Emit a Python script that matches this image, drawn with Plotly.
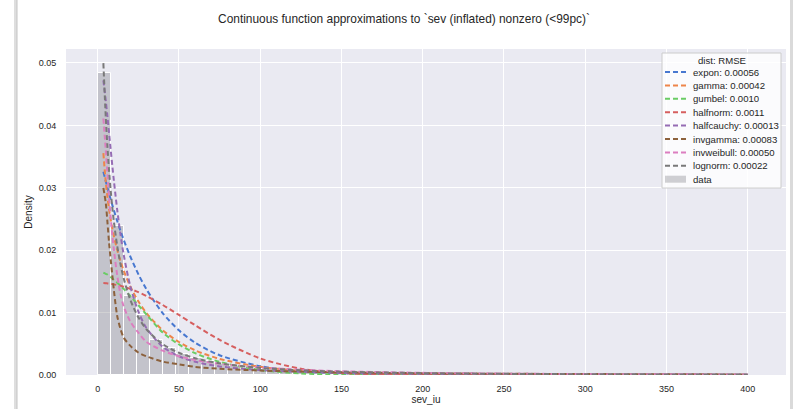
import plotly.graph_objects as go

# ---- data -------------------------------------------------------------
# histogram of sev_iu (density), 8-wide bins from 0 to 400
bin_edges = list(range(0, 401, 8))
hist_density = [0.0484, 0.0238, 0.0126, 0.0096, 0.0056, 0.0043, 0.0033, 0.0027,
                0.0022, 0.0018, 0.0015, 0.0012, 0.0010, 0.0009, 0.0008, 0.0007,
                0.0006, 0.0005, 0.00045, 0.0004, 0.00035, 0.0003, 0.00027, 0.00024,
                0.0002, 0.00018, 0.00016, 0.00014, 0.00012, 0.0001, 0.00009, 0.00008,
                0.00007, 0.00006, 0.00005, 0.00005, 0.00004, 0.00004, 0.00003, 0.00003,
                0.00003, 0.00002, 0.00002, 0.00002, 0.00002, 0.00001, 0.00001, 0.00001,
                0.00001, 0.00001]

# evaluation grid for the fitted pdfs
sev_grid = [3.5, 5, 6, 7, 8, 9, 10, 12, 14, 16, 20, 25, 30, 40, 50, 60, 75,
            100, 125, 150, 200, 250, 300, 400]

pdf_expon = [0.03257, 0.03102, 0.03002, 0.02906, 0.02813, 0.02723, 0.02635, 0.02469,
             0.02313, 0.02168, 0.01903, 0.01617, 0.01374, 0.00992, 0.00716, 0.00517,
             0.00317, 0.00141, 0.000622, 0.000276, 0.0000542, 0.0000106, 0.0000021, 0.0]
pdf_gamma = [0.03555, 0.03082, 0.02850, 0.02657, 0.02492, 0.02349, 0.02223, 0.02007,
             0.01827, 0.01673, 0.01423, 0.01181, 0.00993, 0.00718, 0.00529, 0.00395,
             0.00258, 0.00131, 0.000674, 0.000352, 0.0000981, 0.0000279, 0.0000080, 0.0000007]
pdf_gumbel = [0.0164, 0.0162, 0.0161, 0.0159, 0.0157, 0.0155, 0.0152, 0.0148,
              0.0143, 0.0138, 0.0127, 0.0112, 0.0097, 0.0068, 0.0049, 0.0035,
              0.0021, 0.00080, 0.00025, 0.00006, 0.000003, 0.0, 0.0, 0.0]
pdf_halfnorm = [0.01474, 0.01471, 0.01468, 0.01465, 0.01461, 0.01457, 0.01452, 0.01441,
                0.01429, 0.01414, 0.01380, 0.01327, 0.01266, 0.01123, 0.00962, 0.00797,
                0.00563, 0.00266, 0.00101, 0.000312, 0.0000155, 0.0000003, 0.0, 0.0]
pdf_halfcauchy = [0.04723, 0.04391, 0.04139, 0.03877, 0.03613, 0.03354, 0.03105, 0.02651,
                  0.02259, 0.01930, 0.01431, 0.01019, 0.00753, 0.00453, 0.00300, 0.00212,
                  0.001376, 0.000784, 0.000504, 0.000351, 0.000198, 0.000127, 0.0000883, 0.0000497]
pdf_invgamma = [0.0300, 0.0275, 0.0245, 0.0212, 0.0185, 0.0160, 0.0135, 0.0095,
                0.0074, 0.0060, 0.0047, 0.0036, 0.0030, 0.00215, 0.0017, 0.0013,
                0.0010, 0.00072, 0.00055, 0.00043, 0.00028, 0.0002, 0.00015, 0.00009]
pdf_invweibull = [0.0411, 0.0360, 0.0322, 0.0285, 0.0252, 0.0224, 0.0200, 0.0160,
                  0.0130, 0.0110, 0.0086, 0.0068, 0.0053, 0.0039, 0.0030, 0.0024,
                  0.0018, 0.0012, 0.00085, 0.0006, 0.00035, 0.00022, 0.00015, 0.00008]
pdf_lognorm = [0.04998, 0.04117, 0.03658, 0.03276, 0.02956, 0.02684, 0.02451, 0.02072,
               0.01780, 0.01549, 0.01209, 0.009254, 0.007332, 0.004945, 0.003563, 0.002687,
               0.001869, 0.001137, 0.000756, 0.000534, 0.000301, 0.000188, 0.000127, 0.0000660]

dist_names = ["expon", "gamma", "gumbel", "halfnorm", "halfcauchy",
              "invgamma", "invweibull", "lognorm"]
dist_rmse = ["0.00056", "0.00042", "0.0010", "0.0011", "0.00013",
             "0.00083", "0.00050", "0.00022"]
dist_pdfs = [pdf_expon, pdf_gamma, pdf_gumbel, pdf_halfnorm, pdf_halfcauchy,
             pdf_invgamma, pdf_invweibull, pdf_lognorm]

x_ticks = [0, 50, 100, 150, 200, 250, 300, 350, 400]
y_ticks = [0.00, 0.01, 0.02, 0.03, 0.04, 0.05]

# ---- styling ----------------------------------------------------------
palette = ["#4878d0", "#ee854a", "#6acc64", "#d65f5f", "#956cb4",
           "#8c613c", "#dc7ec0", "#797979"]
bar_fill = "rgba(128,128,132,0.36)"
text_col = "#262626"
font_family = "Liberation Sans, Arial, sans-serif"
legend_font = dict(size=9.6, color=text_col, family=font_family)

W, H = 794, 409
L, R, T, B = 66, 8, 49, 34
plot_w, plot_h = W - L - R, H - T - B


def px_x(px):
    return (px - L) / plot_w


def px_y(py):
    return (H - B - py) / plot_h


fig = go.Figure()

# histogram bars
centers = [(a + b) / 2 for a, b in zip(bin_edges[:-1], bin_edges[1:])]
widths = [b - a for a, b in zip(bin_edges[:-1], bin_edges[1:])]
fig.add_trace(go.Bar(x=centers, y=hist_density, width=widths,
                     marker=dict(color=bar_fill, line=dict(color="white", width=1)),
                     name="data", showlegend=False, hoverinfo="skip"))

# fitted pdf curves
for name, pdf, col in zip(dist_names, dist_pdfs, palette):
    fig.add_trace(go.Scatter(x=sev_grid, y=pdf, mode="lines", name=name,
                             line=dict(color=col, width=2, dash="5px,3px",
                                       shape="spline", smoothing=0.8),
                             showlegend=False, hoverinfo="skip"))

shapes = []
annotations = []

# card edges
shapes.append(dict(type="line", xref="paper", yref="paper",
                   x0=px_x(15.5), x1=px_x(15.5), y0=px_y(0), y1=px_y(H),
                   line=dict(color="#dedede", width=3)))
shapes.append(dict(type="line", xref="paper", yref="paper",
                   x0=px_x(17), x1=px_x(17), y0=px_y(0), y1=px_y(H),
                   line=dict(color="#c4c4c4", width=1)))
shapes.append(dict(type="line", xref="paper", yref="paper",
                   x0=px_x(791.5), x1=px_x(791.5), y0=px_y(0), y1=px_y(H),
                   line=dict(color="#dadada", width=3)))

# legend box
lg_left, lg_right, lg_top, lg_bottom = 662, 781, 53, 188
shapes.append(dict(type="rect", xref="paper", yref="paper",
                   x0=px_x(lg_left), x1=px_x(lg_right),
                   y0=px_y(lg_bottom), y1=px_y(lg_top),
                   fillcolor="rgba(255,255,255,0.8)",
                   line=dict(color="#cccccc", width=1)))
annotations.append(dict(text="dist: RMSE", xref="paper", yref="paper",
                        x=px_x((lg_left + lg_right) / 2), y=px_y(60),
                        xanchor="center", yanchor="middle", showarrow=False,
                        font=legend_font))
row_y0, row_dy = 72, 13.4
for i, (name, rmse, col) in enumerate(zip(dist_names, dist_rmse, palette)):
    yy = row_y0 + i * row_dy
    shapes.append(dict(type="line", xref="paper", yref="paper",
                       x0=px_x(665), x1=px_x(686), y0=px_y(yy), y1=px_y(yy),
                       line=dict(color=col, width=2, dash="5px,3px")))
    annotations.append(dict(text=f"{name}: {rmse}", xref="paper", yref="paper",
                            x=px_x(691), y=px_y(yy), xanchor="left", yanchor="middle",
                            showarrow=False, font=legend_font))
yy = row_y0 + len(dist_names) * row_dy
shapes.append(dict(type="rect", xref="paper", yref="paper",
                   x0=px_x(665), x1=px_x(686), y0=px_y(yy + 3.5), y1=px_y(yy - 3.5),
                   fillcolor=bar_fill, line=dict(width=0)))
annotations.append(dict(text="data", xref="paper", yref="paper",
                        x=px_x(691), y=px_y(yy), xanchor="left", yanchor="middle",
                        showarrow=False, font=legend_font))

fig.update_layout(
    width=W, height=H,
    margin=dict(l=L, r=R, t=T, b=B, autoexpand=False),
    paper_bgcolor="white",
    plot_bgcolor="#eaeaf2",
    font=dict(family=font_family, color=text_col, size=9),
    title=dict(text="Continuous function approximations to `sev (inflated) nonzero (<99pc)`",
               x=404 / W, xref="container", xanchor="center",
               y=1 - 19 / H, yref="container", yanchor="middle",
               font=dict(size=11.9, color=text_col, family=font_family)),
    showlegend=False,
    bargap=0,
    shapes=shapes,
    annotations=annotations,
    hovermode=False,
    xaxis=dict(range=[-19.5, 423.6], tickvals=x_ticks,
               ticktext=[str(v) for v in x_ticks],
               showgrid=True, gridcolor="white", gridwidth=1.2, zeroline=False,
               showline=False, ticks="outside", ticklen=5,
               tickcolor="rgba(0,0,0,0)", tickfont=dict(size=9),
               title=dict(text="sev_iu", standoff=3, font=dict(size=10)),
               automargin=False),
    yaxis=dict(range=[0, 0.05224], tickvals=y_ticks,
               ticktext=[f"{v:.2f}" for v in y_ticks],
               showgrid=True, gridcolor="white", gridwidth=1.2, zeroline=False,
               showline=False, ticks="outside", ticklen=7,
               tickcolor="rgba(0,0,0,0)", tickfont=dict(size=9),
               title=dict(text="Density", standoff=4, font=dict(size=10)),
               automargin=False),
)

fig.write_html("out.html", config=dict(displayModeBar=False))
